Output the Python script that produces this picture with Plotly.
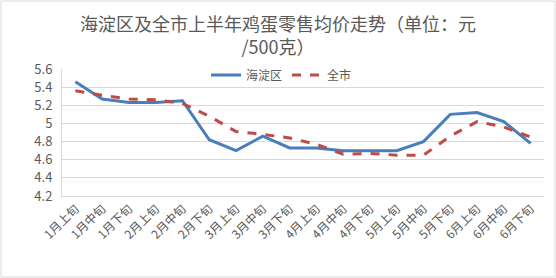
import plotly.graph_objects as go

categories = ["1月上旬", "1月中旬", "1月下旬", "2月上旬", "2月中旬", "2月下旬",
              "3月上旬", "3月中旬", "3月下旬", "4月上旬", "4月中旬", "4月下旬",
              "5月上旬", "5月中旬", "5月下旬", "6月上旬", "6月中旬", "6月下旬"]
haidian = [5.46, 5.27, 5.23, 5.23, 5.25, 4.82, 4.70, 4.86, 4.73, 4.73, 4.70, 4.70,
           4.70, 4.80, 5.10, 5.12, 5.02, 4.78]
quanshi = [5.36, 5.31, 5.27, 5.26, 5.22, 5.08, 4.91, 4.88, 4.84, 4.77, 4.66, 4.67,
           4.65, 4.65, 4.86, 5.02, 4.96, 4.85]
yticks = [4.2, 4.4, 4.6, 4.8, 5.0, 5.2, 5.4, 5.6]
yticktext = ["4.2", "4.4", "4.6", "4.8", "5", "5.2", "5.4", "5.6"]
title_text = "海淀区及全市上半年鸡蛋零售均价走势（单位：元<br>/500克）"

W, H = 556, 278
ml, mr, mt, mb = 62, 12, 69, 82
pw, ph = W - ml - mr, H - mt - mb

font_family = "Noto Sans CJK SC, DejaVu Sans, sans-serif"
grey = "#595959"

fig = go.Figure()
fig.add_trace(go.Scatter(x=categories, y=haidian, mode="lines", name="海淀区",
                         line=dict(color="#4a7ebb", width=3)))
fig.add_trace(go.Scatter(x=categories, y=quanshi, mode="lines", name="全市",
                         line=dict(color="#be4b48", width=3, dash="dash")))

fig.update_layout(
    width=W, height=H,
    margin=dict(l=ml, r=mr, t=mt, b=mb, autoexpand=False),
    paper_bgcolor="white", plot_bgcolor="white",
    font=dict(family=font_family, color=grey, size=12),
    showlegend=True,
    legend=dict(orientation="h", x=(206 - ml) / pw, xanchor="left",
                y=(H - mb - 75) / ph, yanchor="middle",
                bgcolor="rgba(0,0,0,0)", font=dict(size=12, color=grey),
                itemwidth=30, tracegroupgap=0),
    xaxis=dict(type="category", range=[-0.5, len(categories) - 0.5],
               tickangle=-45, showgrid=False, showline=True, linecolor="#d9d9d9",
               linewidth=1, ticks="", automargin=False,
               tickfont=dict(size=12, color=grey)),
    yaxis=dict(range=[4.2, 5.6], tickvals=yticks, ticktext=yticktext,
               showgrid=True, gridcolor="#d9d9d9", gridwidth=1, automargin=False,
               showline=True, linecolor="#d9d9d9", zeroline=False, ticks="",
               ticklabelstandoff=6, tickfont=dict(size=13, color=grey)),
)

fig.add_annotation(text=title_text, xref="paper", yref="paper",
                   x=(W / 2 - ml) / pw, y=(H - mb - 34) / ph,
                   xanchor="center", yanchor="middle", align="center",
                   showarrow=False,
                   font=dict(size=18, color=grey, family=font_family))

fig.add_shape(type="rect", xref="paper", yref="paper",
              x0=(-ml + 1) / pw, x1=(pw + mr - 1) / pw,
              y0=(-mb + 1) / ph, y1=(ph + mt - 1) / ph,
              line=dict(color="#d9d9d9", width=1), fillcolor="rgba(0,0,0,0)")

fig.write_html("out.html")
